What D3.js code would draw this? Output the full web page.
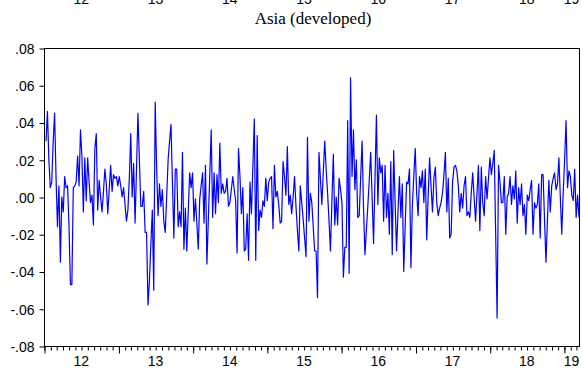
<!DOCTYPE html>
<html><head><meta charset="utf-8">
<script src="https://cdn.jsdelivr.net/npm/d3@7/dist/d3.min.js"></script>
<style>body{margin:0;background:#fff}svg{display:block}</style>
</head><body>
<svg id="c" width="582" height="374"></svg>
<script>
const chartTitle = "Asia (developed)";
const yTicks = [0.08, 0.06, 0.04, 0.02, 0.00, -0.02, -0.04, -0.06, -0.08];
const yearLabels = ["12", "13", "14", "15", "16", "17", "18", "19"];
const axisStart = new Date(2012, 0, 1);
const axisEnd = new Date(2019, 2, 16);
// weekly returns, Jan 2012 - Mar 2019
const values = [
 0.030, 0.046, 0.020, 0.005, 0.008, 0.030, 0.045, 0.010,-0.016, 0.006,
-0.035, 0.000,-0.008, 0.011, 0.005, 0.006,-0.015,-0.047,-0.047, 0.005,
 0.006, 0.008, 0.022, 0.006, 0.036, 0.022,-0.008, 0.021,-0.002, 0.021,
 0.008,-0.003, 0.001,-0.015, 0.026, 0.034,-0.007, 0.009, 0.000,-0.008,
 0.003, 0.015, 0.007,-0.009, 0.004, 0.017, 0.003, 0.012, 0.010, 0.011,
 0.006, 0.011, 0.006, 0.000, 0.005,-0.004,-0.013,-0.007, 0.010, 0.034,
 0.000, 0.018,-0.014, 0.015, 0.045, 0.020,-0.005,-0.005, 0.003,-0.019,
-0.019,-0.058,-0.045,-0.025,-0.007,
-0.050, 0.051, 0.016,-0.010, 0.007,-0.005, 0.004,-0.013,-0.019, 0.000,
 0.020, 0.030, 0.039, 0.008,-0.022, 0.015, 0.015,-0.016,-0.008,-0.016,
 0.024,-0.028,-0.006,-0.029,-0.008, 0.013, 0.005, 0.013,-0.013,-0.001,
-0.014,-0.028,-0.001, 0.006, 0.013,-0.014, 0.017,-0.036,-0.012, 0.012,
 0.036,-0.011, 0.013,-0.009, 0.012,-0.003, 0.029, 0.002, 0.007, 0.002,
 0.003, 0.010,-0.005,-0.003, 0.004, 0.011, 0.004,-0.002,-0.030, 0.026,
 0.011,-0.009, 0.005,-0.029,-0.028,-0.009,-0.034, 0.008,-0.009, 0.017,
 0.042,-0.034, 0.033,
-0.018,-0.007,-0.011,-0.002,-0.005, 0.010,-0.002, 0.008, 0.010, 0.011,
-0.017, 0.017, 0.000, 0.003,-0.004,-0.014,-0.013, 0.019, 0.011, 0.001,
 0.027,-0.004, 0.001,-0.009, 0.000, 0.011,-0.005,-0.018,-0.029, 0.006,
-0.003,-0.012,-0.022,-0.032, 0.032,-0.013, 0.002,-0.003,-0.016,-0.029,
-0.029,-0.054, 0.024, 0.010,-0.004, 0.013, 0.030, 0.015, 0.002,-0.013,
-0.029,-0.003, 0.023,-0.015, 0.000,-0.015, 0.010, 0.004,-0.003,-0.043,
-0.027,-0.027, 0.041,-0.041, 0.064, 0.011, 0.036, 0.004, 0.020,-0.011,
-0.010, 0.010, 0.030,
-0.005,-0.031,-0.018,-0.005, 0.009, 0.024, 0.000,-0.025, 0.010, 0.044,
-0.004, 0.021, 0.013, 0.017,-0.013, 0.017,-0.011, 0.002,-0.020, 0.019,
-0.031, 0.025,-0.003,-0.029,-0.008, 0.011,-0.011, 0.007,-0.040,-0.016,
 0.008, 0.007, 0.015,-0.038,-0.005, 0.011, 0.026, 0.002,-0.010, 0.011,
 0.005, 0.014,-0.003, 0.015,-0.023, 0.000, 0.021, 0.006,-0.008, 0.010,
 0.016,-0.003,-0.010,-0.006,-0.003, 0.002, 0.012, 0.024,-0.008, 0.010,
-0.022,-0.020, 0.008, 0.016, 0.017, 0.014, 0.006,-0.008, 0.002,-0.006,
 0.006, 0.011,-0.010,-0.008,-0.011,
 0.002, 0.013, 0.000,-0.013, 0.002, 0.017,-0.018, 0.016,-0.003,-0.010,
 0.011,-0.001, 0.010, 0.021, 0.012, 0.018, 0.025,-0.020,-0.065, 0.017,
 0.008,-0.003,-0.003, 0.011,-0.020, 0.000, 0.002, 0.011,-0.004, 0.006,
-0.001, 0.014,-0.014, 0.005,-0.004, 0.007,-0.010,-0.004,-0.020, 0.001,
-0.002, 0.004, 0.009,-0.020,-0.003,-0.006,-0.004, 0.007,-0.022, 0.012,
 0.012,-0.012,-0.035,-0.013, 0.009,-0.008, 0.006, 0.010, 0.013, 0.004,
 0.007, 0.021, 0.000,-0.020, 0.002, 0.020, 0.041, 0.005, 0.014, 0.011,
 0.001,-0.002, 0.015,-0.011, 0.001,-0.011
];

const L = 44, R = 579, T = 48, B = 346;
const svg = d3.select("#c");
const lab = "'Liberation Sans', Arial, sans-serif";

const y = d3.scaleLinear().domain([-0.08, 0.08]).range([B, T]);
const xT = d3.scaleTime().domain([axisStart, axisEnd]).range([L, R]);
const xi = d3.scaleLinear().domain([0, values.length - 1]).range([L + 2, R]);

// frame
svg.append("rect").attr("x", L + 0.5).attr("y", T + 0.5)
  .attr("width", R - L).attr("height", B - T)
  .attr("fill", "none").attr("stroke", "#000").attr("stroke-width", 1);

// left axis
const fmt = d => (d < 0 ? "-" : "") + Math.abs(d).toFixed(2).slice(1);
const ga = svg.append("g").attr("transform", `translate(${L + 0.5},0.5)`)
  .call(d3.axisLeft(y).tickValues(yTicks).tickSize(5).tickPadding(5).tickFormat(fmt));
ga.select(".domain").remove();
ga.selectAll("text").attr("font-family", lab).attr("font-size", 14).attr("fill", "#000").attr("dy", "0.35em");

// bottom axis: minor monthly, major yearly
const years = d3.timeYear.range(axisStart, axisEnd);
const gm = svg.append("g").attr("transform", `translate(0.5,${B + 0.5})`)
  .call(d3.axisBottom(xT).tickValues(d3.timeMonth.range(axisStart, axisEnd)).tickSize(4).tickFormat(""));
gm.select(".domain").remove();
const gy = svg.append("g").attr("transform", `translate(0.5,${B + 0.5})`)
  .call(d3.axisBottom(xT).tickValues(years).tickSize(7).tickFormat(""));
gy.select(".domain").remove();

// year labels centred in each visible year span (bottom, and the clipped row at the top)
const centres = years.map(d => {
  const a = xT(d), b = Math.min(R, xT(d3.timeYear.offset(d, 1)));
  return (a + b) / 2;
});
svg.append("g").selectAll("text").data(yearLabels).join("text")
  .attr("x", (d, i) => centres[i]).attr("y", 366)
  .attr("text-anchor", "middle").attr("font-family", lab).attr("font-size", 14).text(d => d);
svg.append("g").selectAll("text").data(yearLabels).join("text")
  .attr("x", (d, i) => centres[i]).attr("y", 4)
  .attr("text-anchor", "middle").attr("font-family", lab).attr("font-size", 14).text(d => d);

// title
svg.append("text").attr("x", 313).attr("y", 24).attr("text-anchor", "middle")
  .attr("font-family", "'Liberation Serif', 'Times New Roman', serif").attr("font-size", 17)
  .text(chartTitle);

// series
svg.append("path").datum(values)
  .attr("fill", "none").attr("stroke", "#0000ff").attr("stroke-width", 1.2)
  .attr("stroke-linejoin", "round")
  .attr("d", d3.line().x((d, i) => xi(i)).y(d => y(d)));
</script>
</body></html>
